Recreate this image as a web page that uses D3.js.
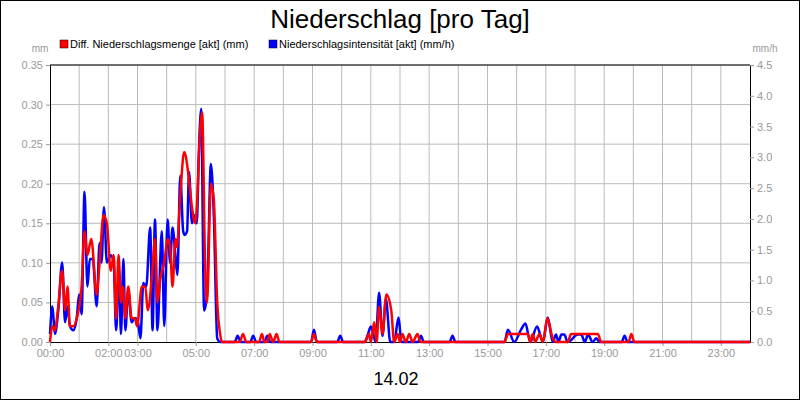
<!DOCTYPE html>
<html><head><meta charset="utf-8">
<script src="https://cdn.jsdelivr.net/npm/d3@7"></script>
<style>body{margin:0;background:#fff}text{font-family:"Liberation Sans",Arial,sans-serif}</style>
</head><body><svg id="chart" width="800" height="400"></svg>
<script>
// minutes since midnight, value
const mengeData = [[0,0],[5,0.02],[10,0.015],[17,0.045],[25,0.09],[31,0.04],[36,0.07],[41,0.02],[48,0.02],[55,0.03],[65,0.07],[71,0.14],[77,0.11],[85,0.13],[96,0.06],[102,0.10],[110,0.16],[117,0.15],[125,0.09],[131,0.11],[136,0.03],[141,0.11],[146,0.05],[150,0.07],[155,0.03],[161,0.07],[168,0.03],[175,0.03],[179,0.02],[189,0.07],[196,0.07],[201,0.04],[210,0.085],[216,0.13],[221,0.05],[227,0.08],[235,0.10],[242,0.13],[247,0.12],[252,0.07],[258,0.13],[261,0.12],[268,0.185],[276,0.24],[285,0.21],[292,0.17],[299,0.15],[302,0.17],[309,0.27],[313,0.29],[319,0.10],[323,0.05],[331,0.20],[337,0.18],[344,0.05],[350,0.01],[354,0],
  [390,0],[397,0.01],[404,0],[430,0],[436,0.01],[441,0],[447,0],[452,0.01],[459,0],[466,0.01],[472,0],[537,0],[543,0.01],[549,0],[648,0],[656,0.01],[660,0],[667,0.025],[672,0],[677,0.045],[684,0.01],[692,0.06],[702,0.04],[708,0],[715,0.01],[720,0],[725,0.01],[732,0],[739,0.01],[746,0],[756,0.01],[762,0],[935,0],[942,0.01],[983,0.01],[988,0],[993,0.01],[998,0],[1007,0.01],[1014,0],[1023,0.03],[1034,0.005],[1041,0],[1065,0],[1072,0.01],[1127,0.01],[1134,0],[1190,0],[1196,0.01],[1202,0],[1440,0]];
const intensitaetData = [[0,0.13],[5,0.58],[10,0.13],[17,0.51],[25,1.29],[31,0.32],[36,0.58],[41,0.26],[48,0.19],[55,0.39],[60,0.77],[65,0.45],[71,2.44],[77,0.9],[82,1.35],[88,1.35],[96,0.58],[102,1.61],[106,1.29],[111,2.19],[117,1.29],[125,1.41],[131,1.29],[136,0.19],[142,1.16],[146,0.13],[151,1.35],[155,0.19],[161,0.84],[168,0.32],[175,0.39],[181,0.32],[186,0.06],[192,0.96],[198,0.9],[206,1.86],[211,0.19],[216,1.99],[221,0.19],[230,1.8],[235,0.26],[242,1.99],[247,1.29],[252,1.86],[258,1.41],[262,1.09],[268,2.7],[274,1.8],[277,1.74],[282,1.8],[286,2.76],[292,1.93],[297,2.06],[302,1.93],[306,3.02],[311,3.79],[317,0.51],[323,0.77],[331,2.89],[337,2.06],[344,0.06],[350,0],
  [380,0],[386,0.1],[392,0],[412,0],[418,0.1],[424,0],[441,0],[447,0.1],[453,0],[537,0],[543,0.2],[549,0],[591,0],[597,0.1],[603,0],[647,0],[653,0.1],[660,0.25],[670,0],[677,0.8],[684,0.1],[691,0.7],[700,0],[708,0],[717,0.4],[723,0],[757,0],[763,0.1],[769,0],[822,0],[828,0.1],[834,0],[935,0],[942,0.2],[955,0],[969,0.2],[978,0.3],[988,0],[1002,0.25],[1014,0],[1024,0.4],[1034,0],[1041,0.12],[1046,0],[1052,0.12],[1058,0.12],[1065,0],[1086,0.12],[1093,0.12],[1100,0],[1107,0.12],[1116,0],[1124,0.06],[1130,0],[1176,0],[1182,0.1],[1188,0],[1440,0]];
const xTickHours = [0,2,3,5,7,9,11,13,15,17,19,21,23];
const leftTicks = d3.range(0, 0.351, 0.05);
const rightTicks = d3.range(0, 4.51, 0.5);

const svg = d3.select("#chart");
const m = {l:50, r:750, t:65, b:342};
const x = d3.scaleLinear().domain([0, 1440]).range([m.l, m.r]);
const yL = d3.scaleLinear().domain([0, 0.35]).range([m.b, m.t]);
const yR = d3.scaleLinear().domain([0, 4.5]).range([m.b, m.t]);
const grey = "#999";

svg.append("rect").attr("x",0.5).attr("y",0.5).attr("width",799).attr("height",399).attr("fill","none").attr("stroke","#000");
svg.append("text").attr("x",400).attr("y",28).attr("text-anchor","middle").attr("font-size",26).text("Niederschlag [pro Tag]");

// grid
svg.append("g").selectAll("line").data(d3.range(1,24)).join("line")
    .attr("x1",d=>x(d*60)).attr("x2",d=>x(d*60)).attr("y1",m.t).attr("y2",m.b)
    .attr("stroke","#bbb");
svg.append("g").selectAll("line").data(leftTicks.slice(1)).join("line")
    .attr("x1",m.l).attr("x2",m.r).attr("y1",d=>yL(d)).attr("y2",d=>yL(d))
    .attr("stroke","#bbb");

// axes
const fmt = d3.format(".2f");
const axL = svg.append("g").attr("transform",`translate(${m.l},0)`)
    .call(d3.axisLeft(yL).tickValues(leftTicks).tickFormat(fmt).tickSize(4).tickSizeOuter(0));
const axR = svg.append("g").attr("transform",`translate(${m.r},0)`)
    .call(d3.axisRight(yR).tickValues(rightTicks).tickFormat(d3.format(".1f")).tickSize(4).tickSizeOuter(0));
const axB = svg.append("g").attr("transform",`translate(0,${m.b})`)
    .call(d3.axisBottom(x).tickValues(xTickHours.map(h=>h*60))
        .tickFormat(d=>String(d/60).padStart(2,"0")+":00").tickSize(4).tickSizeOuter(0));
[axL,axR,axB].forEach(a=>{
    a.selectAll("text").attr("fill",grey).attr("font-size",11).attr("font-family","Liberation Sans, Arial");
    a.selectAll(".tick line").attr("stroke",grey);
    a.select(".domain").attr("stroke","#000");
});
svg.append("line").attr("x1",m.l).attr("x2",m.r).attr("y1",m.t).attr("y2",m.t).attr("stroke","#000");

svg.append("text").attr("x",40).attr("y",52).attr("text-anchor","middle").attr("font-size",10).attr("fill",grey).text("mm");
svg.append("text").attr("x",765).attr("y",52).attr("text-anchor","middle").attr("font-size",10).attr("fill",grey).text("mm/h");

// legend
const legend = [["Diff. Niederschlagsmenge [akt] (mm)","#f00",60],["Niederschlagsintensität [akt] (mm/h)","#00f",269]];
legend.forEach(([t,c,lx])=>{
    svg.append("rect").attr("x",lx).attr("y",40).attr("width",8).attr("height",8).attr("fill",c).attr("stroke","#000").attr("stroke-width",0.5);
    svg.append("text").attr("x",lx+10).attr("y",48).attr("font-size",11).text(t);
});

// lines
const lineB = d3.line().x(d=>x(d[0])).y(d=>yR(d[1])).curve(d3.curveMonotoneX);
const lineR = d3.line().x(d=>x(d[0])).y(d=>yL(d[1])).curve(d3.curveMonotoneX);
svg.append("path").attr("d",lineB(intensitaetData)).attr("fill","none").attr("stroke","#00f").attr("stroke-width",2.5);
svg.append("path").attr("d",lineR(mengeData)).attr("fill","none").attr("stroke","#f00").attr("stroke-width",2.5);

svg.append("text").attr("x",396).attr("y",385).attr("text-anchor","middle").attr("font-size",18).text("14.02");
</script></body></html>
